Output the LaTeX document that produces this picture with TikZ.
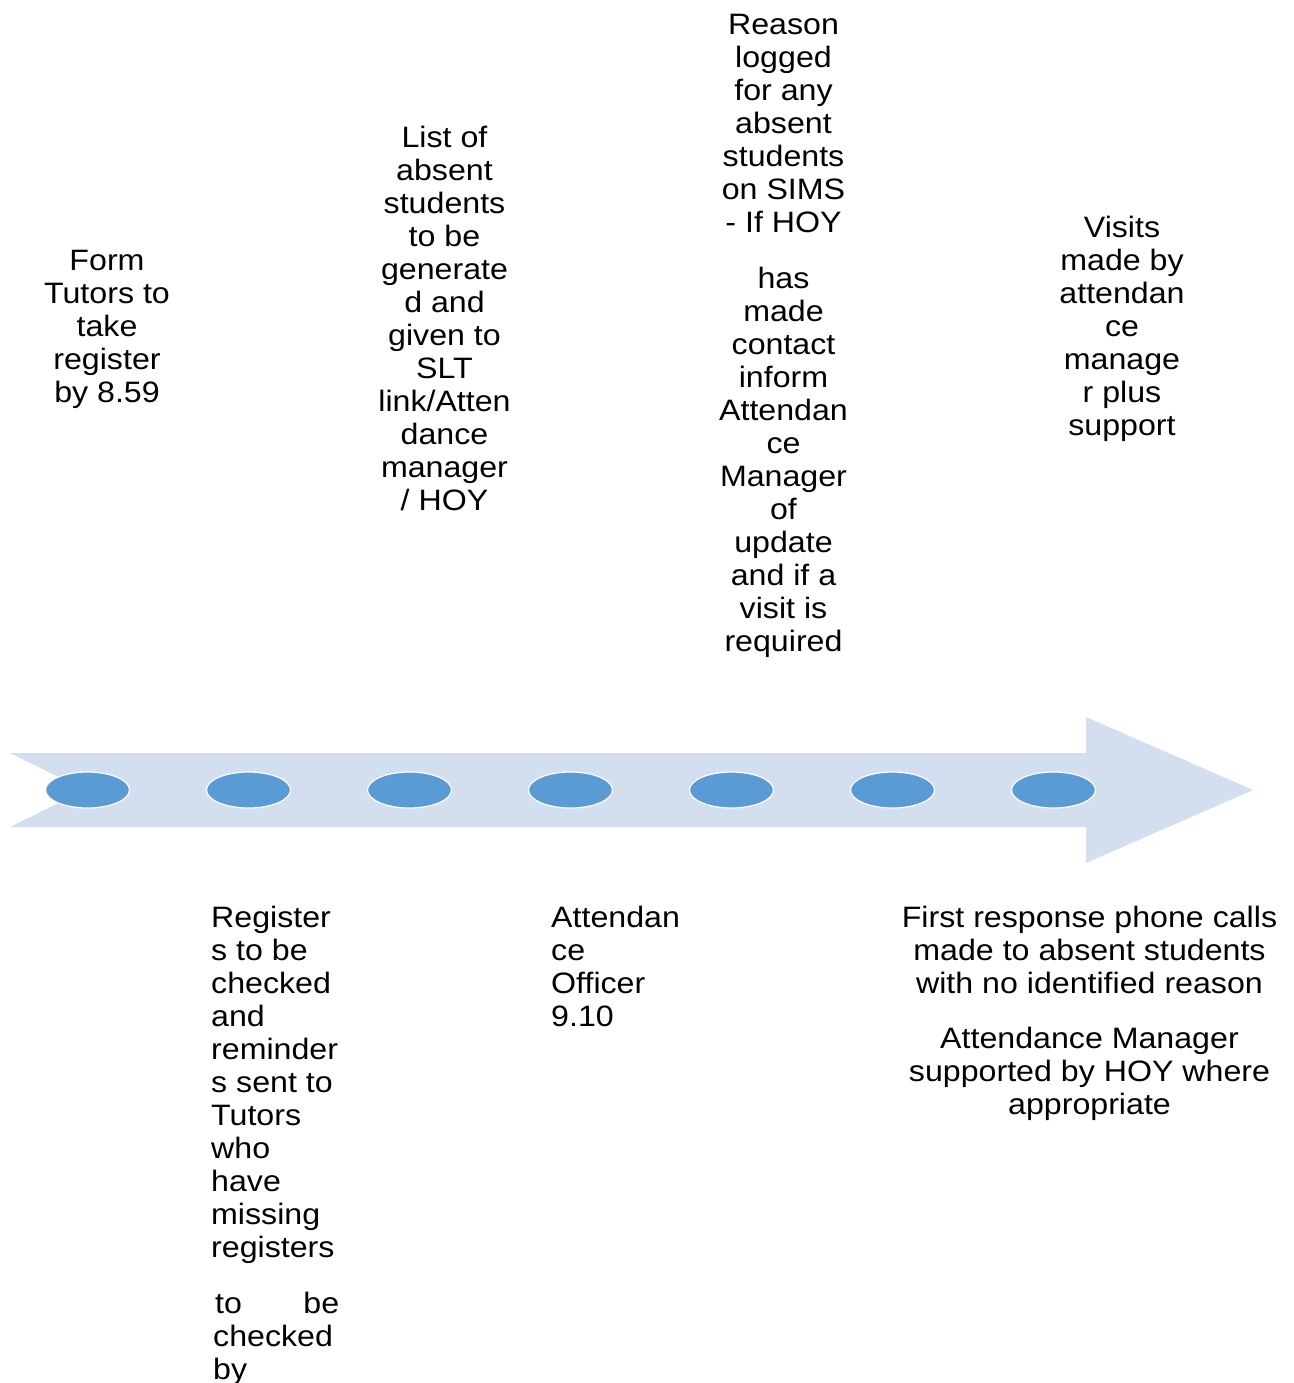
\documentclass[tikz,border=0pt]{standalone}
\usepackage{fontspec}
\setmainfont{Liberation Sans}[FakeStretch=1.09]
\usetikzlibrary{shapes.geometric}
\definecolor{arrowfill}{HTML}{D3DFEE}
\definecolor{dotfill}{HTML}{5B9BD5}
\begin{document}
\begin{tikzpicture}[x=1pt,y=-1pt,
  dot/.style={ellipse,fill=dotfill,draw=white,line width=1.2pt,minimum width=84pt,minimum height=36pt,inner sep=0pt},
  ctext/.style={anchor=north,inner sep=0pt,align=center,font=\fontsize{29.5}{33}\selectfont},
  ltext/.style={anchor=north west,inner sep=0pt,align=left,font=\fontsize{29.5}{33}\selectfont}]
\useasboundingbox (0,0) rectangle (1293,1383);
\fill[white] (0,0) rectangle (1293,1383);
% arrow
\fill[arrowfill] (10,753) -- (1086,753) -- (1086,717) -- (1253,790) -- (1086,863) -- (1086,827) -- (10,827) -- (85,790) -- cycle;
% dots
\foreach \i [evaluate=\i as \xx using 87.5+161*(\i-1)] in {1,...,7}
  \node[dot] (e\i) at (\xx,790) {};
% top texts
\node[ctext] (t1) at (107,250.5) {Form\\Tutors to\\take\\register\\by 8.59};
\node[ctext] (t2) at (444.5,125.5) {List of\\absent\\students\\to be\\generate\\d and\\given to\\SLT\\link/Atten\\dance\\manager\\/ HOY};
\node[ctext] (t3) at (783.5,14) {Reason\\logged\\for any\\absent\\students\\on SIMS\\- If HOY\\[23pt]has\\made\\contact\\inform\\Attendan\\ce\\Manager\\of\\update\\and if a\\visit is\\required};
\node[ctext] (t4) at (1122,215.5) {Visits\\made by\\attendan\\ce\\manage\\r plus\\support};
% bottom texts
\node[ltext] (b1) at (211,905.5) {Register\\s to be\\checked\\and\\reminder\\s sent to\\Tutors\\who\\have\\missing\\registers};
\node[ltext] (b1b) at (213,1291.5) {\makebox[126pt]{\hspace{2pt}to\hfill be}\\checked\\by};
\node[ltext] (b2) at (551,905.5) {Attendan\\ce\\Officer\\9.10};
\node[ctext] (b3) at (1089.5,905.5) {First response phone calls\\made to absent students\\with no identified reason\\[22pt]Attendance Manager\\supported by HOY where\\appropriate};
\end{tikzpicture}
\end{document}
